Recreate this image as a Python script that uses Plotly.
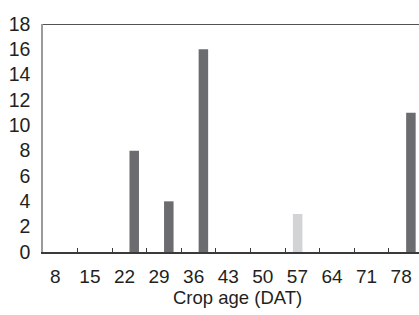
import plotly.graph_objects as go

days = [8, 15, 22, 29, 36, 43, 50, 57, 64, 71, 78]
tick_labels = [str(d) for d in days]
dark_values = [0, 0, 8, 4, 16, 0, 0, 0, 0, 0, 11]
light_values = [0, 0, 0, 0, 0, 0, 0, 3, 0, 0, 0]
y_ticks = list(range(0, 19, 2))

fig = go.Figure()
fig.add_trace(go.Bar(x=days, y=light_values, marker=dict(color="#d2d3d5", line=dict(width=0)), showlegend=False))
fig.add_trace(go.Bar(x=days, y=dark_values, marker=dict(color="#6b6c70", line=dict(width=0)), showlegend=False))

boundaries = [d + 3.5 for d in days[:-1]]

fig.update_layout(
    width=419, height=315,
    margin=dict(l=43, r=0, t=24, b=63, autoexpand=False),
    paper_bgcolor="white", plot_bgcolor="white",
    barmode="group", bargap=0.45, bargroupgap=0,
    font=dict(family="Liberation Sans, Arial, sans-serif", color="#231f20"),
    xaxis=dict(
        range=[4.5, 80.6], tickmode="array", tickvals=days, ticktext=tick_labels,
        ticks="", showgrid=False, zeroline=False, automargin=False,
        showline=True, linecolor="#3a3a3a", linewidth=1.5,
        tickfont=dict(size=19), ticklabelshift=-5, ticklabelstandoff=6,
        minor=dict(tickmode="array", tickvals=boundaries, ticks="inside", ticklen=4,
                   tickwidth=1, tickcolor="#3a3a3a", showgrid=False),
    ),
    yaxis=dict(
        range=[0, 18], tickmode="array", tickvals=y_ticks, ticks="",
        showgrid=False, zeroline=False, automargin=False,
        showline=True, linecolor="#9a9a9a", linewidth=1.5,
        tickfont=dict(size=19.5), ticklabelstandoff=7,
    ),
    shapes=[dict(type="line", xref="paper", yref="y", x0=0, x1=1, y0=18, y1=18,
                 line=dict(color="#1a1a1a", width=1.5))],
    annotations=[dict(text="Crop age (DAT)", xref="paper", yref="paper",
                      x=(237.5 - 43) / 376, y=-(297 - 252) / 228,
                      xanchor="center", yanchor="middle", showarrow=False,
                      font=dict(size=18.5))],
)

fig.write_html("out.html", config={"displayModeBar": False},
               post_script="document.body.style.margin='0';document.body.style.overflow='hidden';")
